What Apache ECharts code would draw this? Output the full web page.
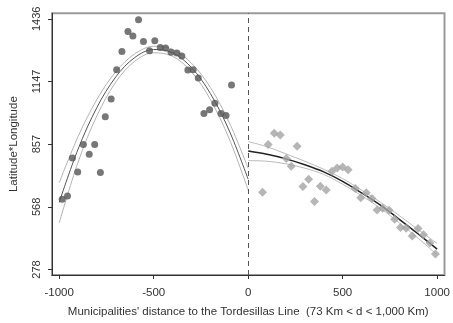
<!DOCTYPE html>
<html>
<head>
<meta charset="utf-8">
<script src="https://cdn.jsdelivr.net/npm/echarts@6/dist/echarts.min.js"></script>
<style>
html,body{margin:0;padding:0;background:#fff;}
#chart{width:453px;height:323px;}
</style>
</head>
<body>
<div id="chart"></div>
<script>
// Left side (west of line): municipalities, dark circles
const leftPtsX = [-984,-956,-930,-902,-872,-841,-812,-782,-756,-725,-696,-668,-636,-610,-580,-554,-522,-494,-465,-437,-408,-377,-351,-319,-291,-264,-234,-204,-176,-144,-117,-88];
const leftPtsY = [602,617,793,728,855,810,855,726,983,1066,1201,1285,1377,1357,1431,1331,1288,1335,1303,1301,1281,1278,1264,1199,1201,1162,998,1016,1046,998,989,1130];
// Right side (east of line): grey diamonds
const rightPtsX = [76,106,138,170,202,228,259,290,320,351,382,413,443,471,500,529,567,596,625,655,682,712,746,775,806,836,868,899,928,962,991];
const rightPtsY = [635,855,907,899,791,755,847,661,695,592,663,645,732,747,751,739,652,609,633,606,553,561,552,510,472,469,433,467,439,400,350];
// Fitted curves and confidence bands
const leftFitX = [-1000,-900,-800,-700,-600,-500,-400,-300,-200,-100,0];
const leftFit = [588,834,1027,1168,1257,1294,1279,1211,1091,919,695];
const leftUpper = [678,892,1064,1192,1274,1309,1295,1231,1119,957,745];
const leftLower = [493,774,989,1144,1240,1279,1263,1191,1063,881,645];
const rightFitX = [0,100,200,300,400,500,600,700,800,900,1000];
const rightFit = [825,810,789,762,729,685,632,575,510,442,372];
const rightUpper = [869,845,812,778,741,698,645,589,527,462,398];
const rightLower = [781,778,766,746,717,672,619,561,493,422,346];
// Axis ticks
const xTicks = [-1000,-500,0,500,1000];
const xTickLabels = ['-1000','-500','0','500','1000'];
const yTickValues = [278,567.5,857,1146.5,1436];
const yTickLabels = ['278','568','857','1147','1436'];

const zip = (xs, ys) => xs.map((x, i) => [x, ys[i]]);
const font = '"Liberation Sans", Arial, sans-serif';

function lineSeries(xs, ys, color, width) {
  return {
    type: 'line', data: zip(xs, ys), smooth: 0.35, showSymbol: false, symbol: 'none',
    lineStyle: { color: color, width: width }, silent: true, z: 2
  };
}

const chart = echarts.init(document.getElementById('chart'), null, { renderer: 'canvas' });
chart.setOption({
  animation: false,
  backgroundColor: '#fff',
  grid: { left: 49, right: 8.5, top: 13.3, bottom: 37.3, show: true, borderColor: '#9a9a9a', borderWidth: 2, backgroundColor: 'transparent' },
  xAxis: {
    type: 'value', min: -1038, max: 1039,
    name: "Municipalities' distance to the Tordesillas Line  (73 Km < d < 1,000 Km)",
    nameLocation: 'middle', nameGap: 31,
    nameTextStyle: { fontFamily: font, fontSize: 11.5, color: '#333' },
    axisLine: { onZero: false, lineStyle: { color: '#333', width: 1 } },
    axisTick: { show: true, length: 4, customValues: xTicks, lineStyle: { color: '#333' } },
    axisLabel: {
      customValues: xTicks, fontFamily: font, fontSize: 11.5, color: '#333', margin: 12,
      formatter: v => { const i = xTicks.indexOf(v); return i >= 0 ? xTickLabels[i] : ''; }
    },
    splitLine: { show: false }
  },
  yAxis: {
    type: 'value', min: 252.7, max: 1461.3,
    name: 'Latitude*Longitude', nameLocation: 'middle', nameGap: 32,
    nameTextStyle: { fontFamily: font, fontSize: 11.5, color: '#333' },
    axisLine: { show: true, onZero: false, lineStyle: { color: '#333', width: 1 } },
    axisTick: { show: true, length: 4, customValues: yTickValues, lineStyle: { color: '#333' } },
    axisLabel: {
      customValues: yTickValues, rotate: 90, fontFamily: font, fontSize: 11, color: '#333', margin: 10,
      formatter: v => { const i = yTickValues.indexOf(v); return i >= 0 ? yTickLabels[i] : ''; }
    },
    splitLine: { show: false }
  },
  series: [
    lineSeries(leftFitX, leftUpper, '#b4b4b4', 1),
    lineSeries(leftFitX, leftLower, '#b4b4b4', 1),
    lineSeries(leftFitX, leftFit, '#555', 1),
    lineSeries(rightFitX, rightUpper, '#bbbbbb', 1),
    lineSeries(rightFitX, rightLower, '#bbbbbb', 1),
    lineSeries(rightFitX, rightFit, '#222', 1.5),
    {
      type: 'scatter', data: zip(leftPtsX, leftPtsY), symbol: 'circle', symbolSize: 7,
      itemStyle: { color: '#555' }, z: 3,
      markLine: {
        silent: true, symbol: 'none', label: { show: false },
        lineStyle: { color: '#555', type: [5, 4], width: 1 },
        data: [{ xAxis: 0 }]
      }
    },
    {
      type: 'scatter', data: zip(rightPtsX, rightPtsY), symbol: 'diamond', symbolSize: 9,
      itemStyle: { color: '#a4a4a4' }, z: 3
    }
  ]
});
</script>
</body>
</html>
